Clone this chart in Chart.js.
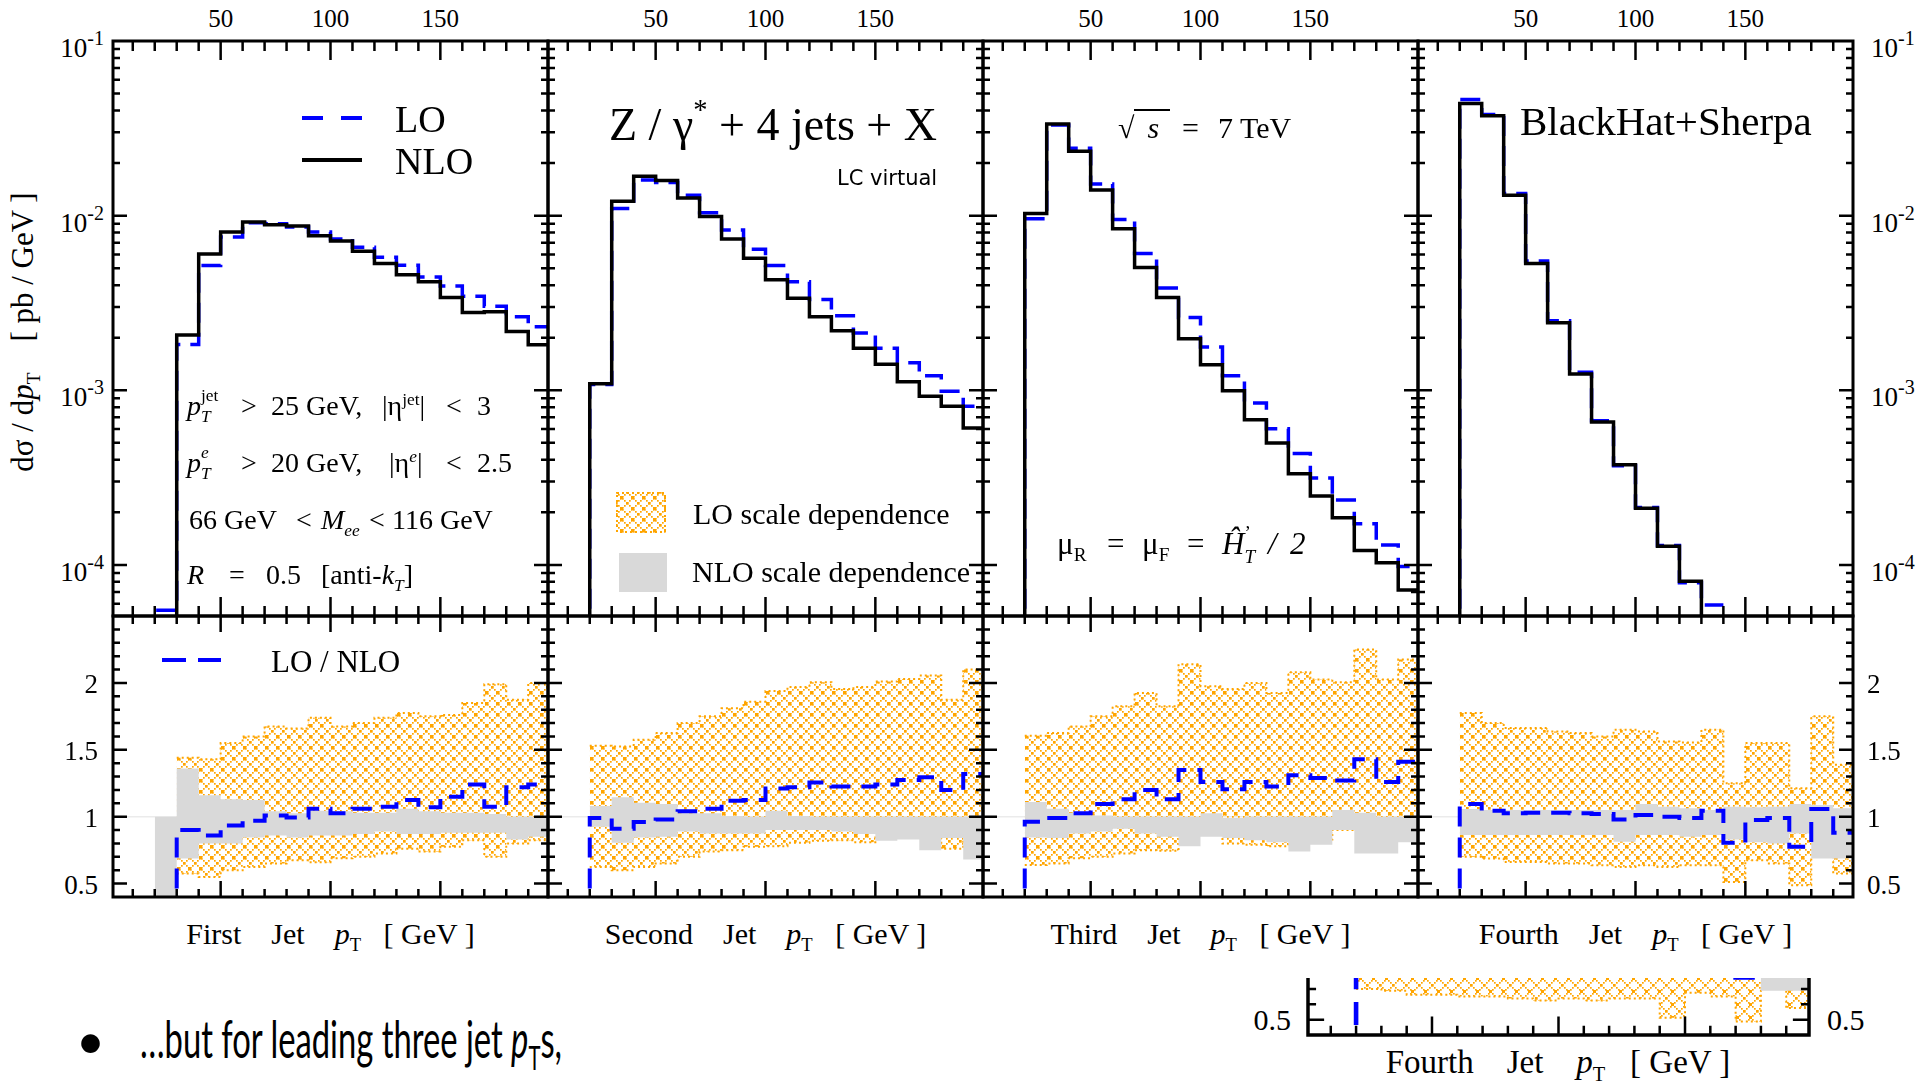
<!DOCTYPE html>
<html>
<head>
<meta charset="utf-8">
<title>Z + 4 jets, jet pT distributions</title>
<script src="https://cdn.jsdelivr.net/npm/chart.js@4.4.1/dist/chart.umd.min.js"></script>
<style>
  html, body { margin: 0; padding: 0; background: #fff; }
  body { width: 1917px; height: 1089px; position: relative; overflow: hidden;
         font-family: "Liberation Serif", "Times New Roman", serif; color: #000; }
  canvas { position: absolute; }
  .t { position: absolute; white-space: pre; line-height: 1; }
  .sb { font-size: 0.62em; position: relative; top: 0.38em; }
  .sp { font-size: 0.62em; position: relative; top: -0.6em; }
  .ss { display: inline-block; position: relative; font-size: 0.62em; height: 1em; }
  .ss .u { position: absolute; left: 0; top: -0.6em; }
  .ss .d { position: absolute; left: 0; top: 0.62em; }
  .deco { position: absolute; }
</style>
</head>
<body>
<script>
// ====================================================================
// DATA: one entry per 10 GeV bin, bins start at binStarts
// ====================================================================
const binStarts = [20, 30, 40, 50, 60, 70, 80, 90, 100, 110, 120, 130, 140, 150, 160, 170, 180, 190];
const binEnd = 200;
const xTickLabels = [50, 100, 150];
const logExponents = [-1, -2, -3, -4];
const ratioTickLabels = [0.5, 1, 1.5, 2];
const jetNames = ['First', 'Second', 'Third', 'Fourth'];

// dsigma/dpT [pb/GeV]
const nlo1 = [3e-5, 2.07e-3, 6.03e-3, 8.05e-3, 9.2e-3, 8.87e-3, 8.73e-3, 7.67e-3, 7.16e-3, 6.25e-3, 5.32e-3, 4.58e-3, 4.18e-3, 3.40e-3, 2.79e-3, 2.82e-3, 2.17e-3, 1.82e-3];
const lo1  = [5.5e-5, 1.83e-3, 5.18e-3, 7.55e-3, 9.1e-3, 9.0e-3, 8.6e-3, 8.05e-3, 7.35e-3, 6.6e-3, 5.77e-3, 5.2e-3, 4.46e-3, 3.95e-3, 3.46e-3, 3.03e-3, 2.64e-3, 2.31e-3];
const nlo2 = [1.09e-3, 1.21e-2, 1.68e-2, 1.59e-2, 1.26e-2, 9.9e-3, 7.35e-3, 5.70e-3, 4.29e-3, 3.37e-3, 2.64e-3, 2.19e-3, 1.74e-3, 1.41e-3, 1.12e-3, 9.25e-4, 8.09e-4, 6.08e-4];
const lo2  = [1.08e-3, 1.10e-2, 1.60e-2, 1.55e-2, 1.31e-2, 1.04e-2, 8.27e-3, 6.43e-3, 5.18e-3, 4.18e-3, 3.31e-3, 2.67e-3, 2.13e-3, 1.74e-3, 1.44e-3, 1.21e-3, 9.87e-4, 8.09e-4];
const nlo3 = [1.03e-2, 3.35e-2, 2.34e-2, 1.40e-2, 8.41e-3, 5.05e-3, 3.40e-3, 1.97e-3, 1.40e-3, 9.93e-4, 6.78e-4, 4.99e-4, 3.33e-4, 2.48e-4, 1.86e-4, 1.21e-4, 1.03e-4, 7.18e-5];
const lo3  = [9.6e-3, 3.3e-2, 2.43e-2, 1.52e-2, 9.5e-3, 6.08e-3, 3.85e-3, 2.61e-3, 1.77e-3, 1.21e-3, 8.45e-4, 6.02e-4, 4.35e-4, 3.15e-4, 2.35e-4, 1.72e-4, 1.30e-4, 9.8e-5];
const nlo4 = [4.38e-2, 3.73e-2, 1.31e-2, 5.32e-3, 2.44e-3, 1.24e-3, 6.59e-4, 3.75e-4, 2.11e-4, 1.28e-4, 8.07e-5, 3e-5, null, null, null, null, null, null];
const lo4  = [4.63e-2, 3.8e-2, 1.34e-2, 5.5e-3, 2.5e-3, 1.27e-3, 6.7e-4, 3.7e-4, 2.13e-4, 1.29e-4, 7.9e-5, 5.9e-5, null, null, null, null, null, null];

// LO / NLO ratio
const ratio1 = [null, 0.90, 0.86, 0.935, 0.97, 1.01, 0.995, 1.06, 1.025, 1.06, 1.075, 1.125, 1.07, 1.15, 1.24, 1.075, 1.22, 1.24];
const ratio2 = [0.99, 0.91, 0.96, 0.98, 1.04, 1.06, 1.12, 1.125, 1.21, 1.22, 1.255, 1.225, 1.225, 1.24, 1.275, 1.295, 1.20, 1.32];
const ratio3 = [0.9625, 0.99, 1.025, 1.095, 1.13, 1.20, 1.13, 1.35, 1.26, 1.205, 1.26, 1.225, 1.31, 1.29, 1.27, 1.43, 1.26, 1.41];
const ratio4 = [1.095, 1.045, 1.025, 1.03, 1.03, 1.025, 1.02, 0.98, 1.0125, 1.0, 0.99, 1.045, 0.805, 0.975, 0.99, 0.775, 1.0575, 0.88];

// NLO scale dependence (grey band), lower / upper edge
const nloBandLo1 = [0.3, 0.6875, 0.80, 0.80, 0.845, 0.86, 0.845, 0.86, 0.86, 0.87, 0.89, 0.87, 0.87, 0.88, 0.88, 0.88, 0.83, 0.85];
const nloBandHi1 = [1.0, 1.36, 1.16, 1.13, 1.125, 1.04, 1.025, 1.045, 1.04, 1.03, 1.03, 1.06, 1.04, 1.03, 1.03, 1.02, 1.0, 1.0];
const nloBandLo2 = [0.925, 0.805, 0.845, 0.85, 0.89, 0.875, 0.875, 0.875, 0.9, 0.9, 0.9, 0.89, 0.87, 0.82, 0.83, 0.75, 0.84, 0.68];
const nloBandHi2 = [1.08, 1.145, 1.105, 1.095, 1.025, 1.025, 1.005, 1.0, 1.045, 1.005, 1.0, 1.0, 1.0, 1.0, 1.0, 1.0, 1.0, 1.0];
const nloBandLo3 = [0.845, 0.84, 0.875, 0.89, 0.91, 0.875, 0.85, 0.78, 0.85, 0.84, 0.825, 0.81, 0.74, 0.79, 0.9, 0.725, 0.725, 0.81];
const nloBandHi3 = [1.11, 1.06, 1.03, 1.01, 1.0, 1.0, 1.0, 1.0, 1.025, 0.99, 1.0, 1.0, 1.0, 1.0, 1.05, 1.03, 1.0, 1.0];
const nloBandLo4 = [0.8625, 0.8625, 0.8625, 0.8625, 0.8625, 0.8625, 0.8625, 0.8125, 0.8625, 0.8625, 0.85, 0.8625, 0.83, 0.81, 0.80, 0.875, 0.6875, 0.6875];
const nloBandHi4 = [1.0575, 1.05, 1.05, 1.05, 1.05, 1.05, 1.05, 1.05, 1.095, 1.075, 1.0625, 1.05, 1.075, 1.07, 1.075, 1.095, 1.0875, 1.0625];

// LO scale dependence (orange hatched band), lower / upper edge
const loBandLo1 = [null, 0.575, 0.55, 0.60, 0.625, 0.65, 0.675, 0.66, 0.69, 0.70, 0.725, 0.76, 0.74, 0.775, 0.825, 0.70, 0.80, 0.825];
const loBandHi1 = [null, 1.44, 1.43, 1.55, 1.60, 1.675, 1.66, 1.74, 1.675, 1.70, 1.74, 1.775, 1.75, 1.76, 1.85, 1.99, 1.875, 2.0];
const loBandLo2 = [0.625, 0.60, 0.625, 0.65, 0.70, 0.74, 0.75, 0.775, 0.78, 0.805, 0.82, 0.825, 0.81, 0.845, 0.845, 0.86, 0.76, 0.875];
const loBandHi2 = [1.53, 1.525, 1.575, 1.625, 1.70, 1.75, 1.81, 1.86, 1.94, 1.97, 2.005, 1.955, 1.97, 2.01, 2.03, 2.055, 1.875, 2.10];
const loBandLo3 = [0.64, 0.65, 0.69, 0.70, 0.725, 0.75, 0.745, 0.875, 0.875, 0.80, 0.79, 0.78, 0.855, 0.83, 0.90, 0.925, 0.825, 0.90];
const loBandHi3 = [1.605, 1.625, 1.675, 1.75, 1.825, 1.925, 1.825, 2.14, 1.975, 1.955, 2.0, 1.925, 2.08, 2.025, 2.005, 2.25, 2.025, 2.175];
const loBandLo4 = [0.70, 0.6875, 0.6625, 0.6625, 0.65, 0.65, 0.6375, 0.625, 0.6375, 0.625, 0.6375, 0.6375, 0.5125, 0.675, 0.65, 0.4875, 0.70, 0.575];
const loBandHi4 = [1.775, 1.70, 1.6625, 1.6625, 1.6375, 1.625, 1.60, 1.65, 1.6375, 1.5625, 1.555, 1.65, 1.25, 1.55, 1.55, 1.2125, 1.75, 1.3875];

const panels = [
  { nlo: nlo1, lo: lo1, ratio: ratio1, nloLo: nloBandLo1, nloHi: nloBandHi1, loLo: loBandLo1, loHi: loBandHi1 },
  { nlo: nlo2, lo: lo2, ratio: ratio2, nloLo: nloBandLo2, nloHi: nloBandHi2, loLo: loBandLo2, loHi: loBandHi2 },
  { nlo: nlo3, lo: lo3, ratio: ratio3, nloLo: nloBandLo3, nloHi: nloBandHi3, loLo: loBandLo3, loHi: loBandHi3 },
  { nlo: nlo4, lo: lo4, ratio: ratio4, nloLo: nloBandLo4, nloHi: nloBandHi4, loLo: loBandLo4, loHi: loBandHi4 }
];

// ====================================================================
// LAYOUT
// ====================================================================
const PAD = 6;
const colLeft = [113, 548, 983, 1418];
const colW = 435;
const upperTop = 41, upperBottom = 616, lowerBottom = 897;
const X_MIN = 1, X_MAX = 199;
const BLUE = '#0000ff', ORANGE = '#ffa500', GREY = '#d9d9d9';

// step line: value of bin i holds from binStarts[i] to next edge
function stepPoints(vals, floor) {
  const first = vals.findIndex(v => v !== null);
  let last = first;
  while (last + 1 < vals.length && vals[last + 1] !== null) last++;
  const pts = [];
  if (floor !== undefined) pts.push({ x: binStarts[first], y: floor });
  for (let i = first; i <= last; i++) pts.push({ x: binStarts[i], y: vals[i] });
  pts.push({ x: last + 1 < binStarts.length ? binStarts[last + 1] : binEnd, y: vals[last] });
  return pts;
}

// dotted cross-hatch tile, bigger dot where the diagonals cross
function hatchPattern(ctx, s) {
  const c = document.createElement('canvas');
  c.width = c.height = s;
  const g = c.getContext('2d');
  g.fillStyle = ORANGE;
  for (let k = 0; k < s; k += 2) {
    g.fillRect(k, k, 1.7, 1.7);
    g.fillRect(s - 1 - k, k, 1.7, 1.7);
  }
  const m = (s - 1) / 2;
  g.fillRect(m - 1, m - 1, 3, 3);
  return ctx.createPattern(c, 'repeat');
}

function yTickValues(ys, log) {
  const out = [];
  if (log) {
    for (let e = -7; e <= 0; e++) {
      for (let m = 1; m <= 9; m++) {
        const v = m * Math.pow(10, e);
        if (v > ys.min * 1.001 && v < ys.max * 0.999) out.push([v, m === 1]);
      }
    }
  } else {
    for (let k = Math.ceil(ys.min * 10); k <= Math.floor(ys.max * 10); k++) {
      const v = k / 10;
      if (v > ys.min + 1e-6 && v < ys.max - 1e-6) out.push([v, k % 5 === 0]);
    }
  }
  return out;
}

// frame + inward ticks on every side, drawn from the chart's own scales
const frameTicks = {
  id: 'frameTicks',
  afterDatasetsDraw(chart, args, o) {
    const { ctx, chartArea: a } = chart;
    const xs = chart.scales.x, ys = chart.scales.y;
    ctx.save();
    ctx.strokeStyle = '#000';
    ctx.lineWidth = o.tickWidth;
    ctx.beginPath();
    for (let v = 10; v < xs.max; v += 10) {
      if (v <= xs.min) continue;
      const px = xs.getPixelForValue(v);
      const len = v % 50 === 0 ? o.xMajor : o.xMinor;
      ctx.moveTo(px, a.bottom); ctx.lineTo(px, a.bottom - len);
      if (!o.noTop) { ctx.moveTo(px, a.top); ctx.lineTo(px, a.top + len); }
    }
    yTickValues(ys, o.log).forEach(([v, major]) => {
      const py = ys.getPixelForValue(v);
      const len = major ? o.yMajor : o.yMinor;
      ctx.moveTo(a.left, py); ctx.lineTo(a.left + len, py);
      ctx.moveTo(a.right, py); ctx.lineTo(a.right - len, py);
    });
    ctx.stroke();
    ctx.lineWidth = o.frameWidth;
    ctx.beginPath();
    if (o.noTop) {
      ctx.moveTo(a.left, a.top); ctx.lineTo(a.left, a.bottom);
      ctx.lineTo(a.right, a.bottom); ctx.lineTo(a.right, a.top);
    } else {
      ctx.rect(a.left, a.top, a.right - a.left, a.bottom - a.top);
    }
    ctx.stroke();
    ctx.restore();
  }
};

function addCanvas(left, top, w, h) {
  const cv = document.createElement('canvas');
  cv.width = w + 2 * PAD;
  cv.height = h + 2 * PAD;
  cv.style.left = (left - PAD) + 'px';
  cv.style.top = (top - PAD) + 'px';
  document.body.appendChild(cv);
  return cv;
}

function makeChart(cv, yOpts, datasets, ticks) {
  return new Chart(cv, {
    type: 'line',
    data: { datasets },
    options: {
      animation: false,
      responsive: false,
      devicePixelRatio: 1,
      layout: { padding: PAD },
      events: [],
      plugins: { legend: { display: false }, tooltip: { enabled: false }, frameTicks: ticks },
      elements: { point: { radius: 0 }, line: { tension: 0, borderCapStyle: 'butt', borderJoinStyle: 'miter' } },
      scales: {
        x: { type: 'linear', min: X_MIN, max: X_MAX, display: false },
        y: Object.assign({ display: false }, yOpts)
      }
    },
    plugins: [frameTicks]
  });
}

function ratioDatasets(p, cv, k) {
  const pattern = hatchPattern(cv.getContext('2d'), Math.round(11 * k));
  return [
    { data: stepPoints(p.ratio, 0), borderColor: BLUE, borderWidth: 4 * k, borderDash: [20 * k, 11 * k], stepped: true, fill: false },
    { data: stepPoints(p.nloHi), borderColor: 'rgba(0,0,0,0)', borderWidth: 1, stepped: true, fill: '+1', backgroundColor: GREY },
    { data: stepPoints(p.nloLo), borderColor: 'rgba(0,0,0,0)', borderWidth: 1, stepped: true, fill: false },
    { data: stepPoints(p.loHi), borderColor: ORANGE, borderWidth: 2, borderDash: [2, 3], stepped: true, fill: '+1', backgroundColor: pattern },
    { data: stepPoints(p.loLo), borderColor: ORANGE, borderWidth: 2, borderDash: [2, 3], stepped: true, fill: false },
    { data: [{ x: X_MIN, y: 1 }, { x: X_MAX, y: 1 }], borderColor: '#ebebeb', borderWidth: 1.5, fill: false }
  ];
}

// ====================================================================
// TEXT HELPERS
// ====================================================================
function txt(html, x, y, size, align, extra) {
  const d = document.createElement('div');
  d.className = 't';
  d.innerHTML = html;
  d.style.left = x + 'px';
  d.style.top = y + 'px';
  d.style.fontSize = size + 'px';
  const tx = align === 'r' ? '-100%' : align === 'c' ? '-50%' : '0';
  d.style.transform = 'translate(' + tx + ',-50%)' + (extra || '');
  document.body.appendChild(d);
  return d;
}
// one line of text laid out piece by piece, [x, html] pairs
function pieces(y, size, list) {
  list.forEach(([x, html]) => txt(html, x, y, size, 'l'));
}
function deco(x, y, w, h, bg) {
  const d = document.createElement('div');
  d.className = 'deco';
  Object.assign(d.style, { left: x + 'px', top: y + 'px', width: w + 'px', height: h + 'px', background: bg });
  document.body.appendChild(d);
}

// ====================================================================
// PANELS
// ====================================================================
panels.forEach((p, i) => {
  const left = colLeft[i];

  const cu = addCanvas(left, upperTop, colW, upperBottom - upperTop);
  const up = makeChart(cu, { type: 'logarithmic', min: 5.1e-5, max: 0.1 }, [
    { data: stepPoints(p.nlo, 1e-7), borderColor: '#000', borderWidth: 3.5, stepped: true, fill: false },
    { data: stepPoints(p.lo, 1e-7), borderColor: BLUE, borderWidth: 3.5, borderDash: [20, 10], stepped: true, fill: false }
  ], { log: true, xMajor: 19, xMinor: 10, yMajor: 14, yMinor: 7, tickWidth: 2.5, frameWidth: 3 });

  const cl = addCanvas(left, upperBottom, colW, lowerBottom - upperBottom);
  const low = makeChart(cl, { type: 'linear', min: 0.4, max: 2.5 }, ratioDatasets(p, cl, 1),
    { log: false, xMajor: 16, xMinor: 8, yMajor: 14, yMinor: 7, tickWidth: 2.5, frameWidth: 3 });

  const ox = left - PAD;
  // top tick labels
  xTickLabels.forEach(v => txt(String(v), ox + up.scales.x.getPixelForValue(v), 18, 25, 'c'));
  // axis title under the ratio panel
  txt(jetNames[i] + '    Jet    <i>p</i><span class="sb">T</span>   [ GeV ]', left + colW / 2, 934, 30, 'c');

  if (i === 0 || i === 3) {
    logExponents.forEach(e => {
      const py = upperTop - PAD + up.scales.y.getPixelForValue(Math.pow(10, e));
      const html = '10<span style="font-size:20px;position:relative;top:-12px">' + e + '</span>';
      if (i === 0) txt(html, 104, py + 7, 27, 'r');
      else txt(html, 1871, py + 7, 27, 'l');
    });
    ratioTickLabels.forEach(v => {
      const py = upperBottom - PAD + low.scales.y.getPixelForValue(v);
      if (i === 0) txt(String(v), 98, py + 1, 27, 'r');
      else txt(String(v), 1867, py + 1, 27, 'l');
    });
  }
});

// cut-out copy of the fourth ratio panel (slide overlay), scaled by 501/435
const fk = 501 / 435;
const cf = addCanvas(1308, 978, 501, 57);
const frag = makeChart(cf, { type: 'linear', min: 0.4, max: 0.771 }, ratioDatasets(panels[3], cf, fk),
  { log: false, noTop: true, xMajor: 16 * fk, xMinor: 8 * fk, yMajor: 14 * fk, yMinor: 7 * fk, tickWidth: 2.5, frameWidth: 3.5 });
const fy = 978 - PAD + frag.scales.y.getPixelForValue(0.5);
txt('0.5', 1291, fy, 30, 'r');
txt('0.5', 1827, fy, 30, 'l');
txt('Fourth    Jet    <i>p</i><span class="sb">T</span>   [ GeV ]', 1558, 1062, 33, 'c');

// ====================================================================
// ANNOTATIONS
// ====================================================================
// y axis title
txt('dσ / d<i>p</i><span class="sb">T</span>    [ pb / GeV ]', 22, 332, 31, 'c', ' rotate(-90deg)');

// panel 1 legend + cuts
deco(302, 116, 21, 4, BLUE); deco(341, 116, 21, 4, BLUE);
txt('LO', 395, 119, 38, 'l');
deco(302, 158, 60, 4, '#000');
txt('NLO', 395, 161, 38, 'l');
pieces(406, 28, [
  [187, '<i>p</i><span class="ss" style="width:1.1em"><span class="u">jet</span><span class="d"><i>T</i></span></span>'],
  [241, '&gt;'], [271, '25 GeV,'], [382, '|η<span class="sp">jet</span>|'], [446, '&lt;'], [477, '3']
]);
pieces(463, 28, [
  [187, '<i>p</i><span class="ss" style="width:0.9em"><span class="u"><i>e</i></span><span class="d"><i>T</i></span></span>'],
  [241, '&gt;'], [271, '20 GeV,'], [389, '|η<span class="sp"><i>e</i></span>|'], [446, '&lt;'], [477, '2.5']
]);
pieces(520, 28, [
  [189, '66 GeV'], [296, '&lt;'], [321, '<i>M</i><span class="sb"><i>ee</i></span>'], [369, '&lt;'], [392, '116 GeV']
]);
pieces(575, 28, [
  [187, '<i>R</i>'], [229, '='], [266, '0.5'], [321, '[anti-<i>k</i><span class="sb"><i>T</i></span>]']
]);
deco(162, 658, 24, 4, BLUE); deco(198, 658, 23, 4, BLUE);
txt('LO / NLO', 271, 661, 31, 'l');

// panel 2
txt('Z / γ<span class="sp" style="top:-0.75em">*</span> + 4 jets + X', 609, 125, 46, 'l');
txt('LC virtual', 837, 178, 21, 'l').style.fontFamily = '"DejaVu Sans", sans-serif';
const lg = document.createElement('canvas');
lg.width = 50; lg.height = 41;
lg.style.left = '616px'; lg.style.top = '492px';
document.body.appendChild(lg);
const lgc = lg.getContext('2d');
lgc.fillStyle = hatchPattern(lgc, 11);
lgc.fillRect(0, 0, 50, 41);
lgc.strokeStyle = ORANGE; lgc.lineWidth = 2; lgc.setLineDash([2, 3]);
lgc.strokeRect(1, 1, 48, 39);
txt('LO scale dependence', 693, 514, 30, 'l');
deco(619, 553, 48, 39, GREY);
txt('NLO scale dependence', 692, 572, 30, 'l');

// panel 3
pieces(128, 30, [
  [1118, '√<span style="border-top:2px solid #000;padding:0 11px 0 13px"><i>s</i></span>'],
  [1182, '='], [1218, '7'], [1240, 'TeV']
]);
pieces(543, 31, [
  [1057, 'μ<span class="sb">R</span>'], [1107, '='], [1142, 'μ<span class="sb">F</span>'], [1187, '='],
  [1222, '<i>Ĥ</i><span class="ss" style="width:0.8em"><span class="u">’</span><span class="d"><i>T</i></span></span>'],
  [1268, '<i>/</i>'], [1290, '<i>2</i>']
]);

// panel 4
txt('BlackHat+Sherpa', 1520, 121, 41, 'l');

// slide bullet
txt('•', 76, 1040, 50, 'l').style.fontFamily = 'Lato, sans-serif';
const bullet = txt('…but for leading three jet <i>p</i><span class="sb">T</span>s,', 140, 1038, 52, 'l', ' scaleX(0.63)');
bullet.style.fontFamily = 'Lato, sans-serif';
bullet.style.transformOrigin = '0 50%';
</script>
</body>
</html>
